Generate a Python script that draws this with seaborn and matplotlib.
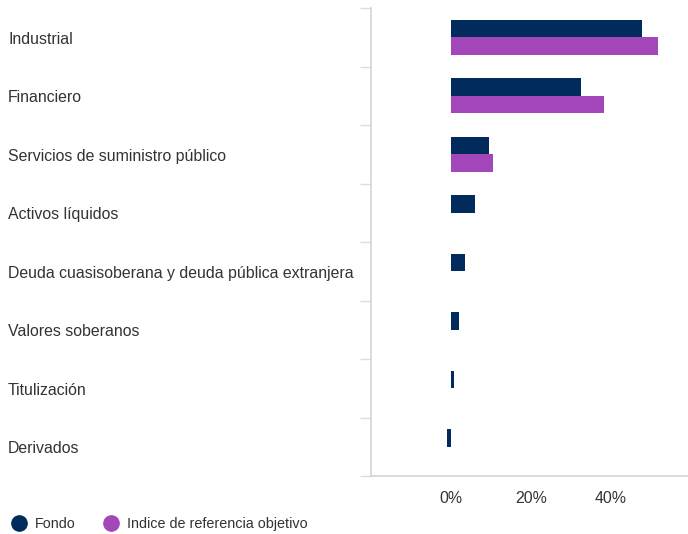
import matplotlib
matplotlib.use('Agg')

import matplotlib.pyplot as plt
import matplotlib.transforms as mtransforms
from matplotlib.lines import Line2D
import numpy as np
import pandas as pd
import seaborn as sns

# chart data
categories = [
    'Industrial',
    'Financiero',
    'Servicios de suministro público',
    'Activos líquidos',
    'Deuda cuasisoberana y deuda pública extranjera',
    'Valores soberanos',
    'Titulización',
    'Derivados',
]
fondo = [47.75, 32.5, 9.5, 6.0, 3.5, 2.0, 0.75, -1.0]
indice = [51.75, 38.25, 10.5, np.nan, np.nan, np.nan, np.nan, np.nan]
series_names = ['Fondo', 'Indice de referencia objetivo']
series_colors = ['#002b5c', '#a346b9']
x_ticks = [0, 20, 40]

df = pd.DataFrame({
    'categoria': categories * 2,
    'valor': fondo + indice,
    'serie': [series_names[0]] * len(categories) + [series_names[1]] * len(categories),
})

sns.set_style('white')
plt.rcParams['font.family'] = ['Liberation Sans', 'DejaVu Sans']

fig = plt.figure(figsize=(6.88, 5.34), dpi=100)
ax = fig.add_axes([371 / 688, 58 / 534, 320 / 688, 468 / 534])

sns.barplot(
    data=df, x='valor', y='categoria', hue='serie', order=categories,
    hue_order=series_names, palette=series_colors, orient='h',
    width=0.6, errorbar=None, saturation=1, ax=ax, legend=False,
    linewidth=0,
)

ax.set_xlim(-20, 60)
ax.set_ylim(len(categories) - 0.5, -0.5)
ax.set_xlabel('')
ax.set_ylabel('')

# x ticks as percentages, no tick marks
ax.set_xticks(x_ticks)
ax.set_xticklabels([f'{t}%' for t in x_ticks], fontsize=11.4, color='#333333')
ax.tick_params(axis='x', length=0, pad=11)

# separator ticks between categories on the left axis
ax.set_yticks(np.arange(-0.5, len(categories), 1.0))
ax.set_yticklabels([])
ax.tick_params(axis='y', length=8, width=1, color='#dadcec', left=True)

for side in ['top', 'right']:
    ax.spines[side].set_visible(False)
for side in ['left', 'bottom']:
    ax.spines[side].set_color('#d4d4d8')
    ax.spines[side].set_linewidth(1.2)

# category labels, left aligned at the figure edge
trans = mtransforms.blended_transform_factory(fig.transFigure, ax.transData)
for i, cat in enumerate(categories):
    ax.text(8 / 688, i + 0.03, cat, transform=trans, ha='left', va='center',
            fontsize=11.4, color='#333333', clip_on=False)

handles = [Line2D([], [], marker='o', ls='', color=c, markersize=11)
           for c in series_colors]
fig.legend(handles, series_names, loc='center left',
           bbox_to_anchor=(5 / 688, 10 / 534), ncol=2, frameon=False,
           fontsize=10.4, handlelength=1.0, handletextpad=0.55,
           columnspacing=2.0, borderpad=0, labelcolor='#333333')

fig.savefig('out.png', dpi=100)
